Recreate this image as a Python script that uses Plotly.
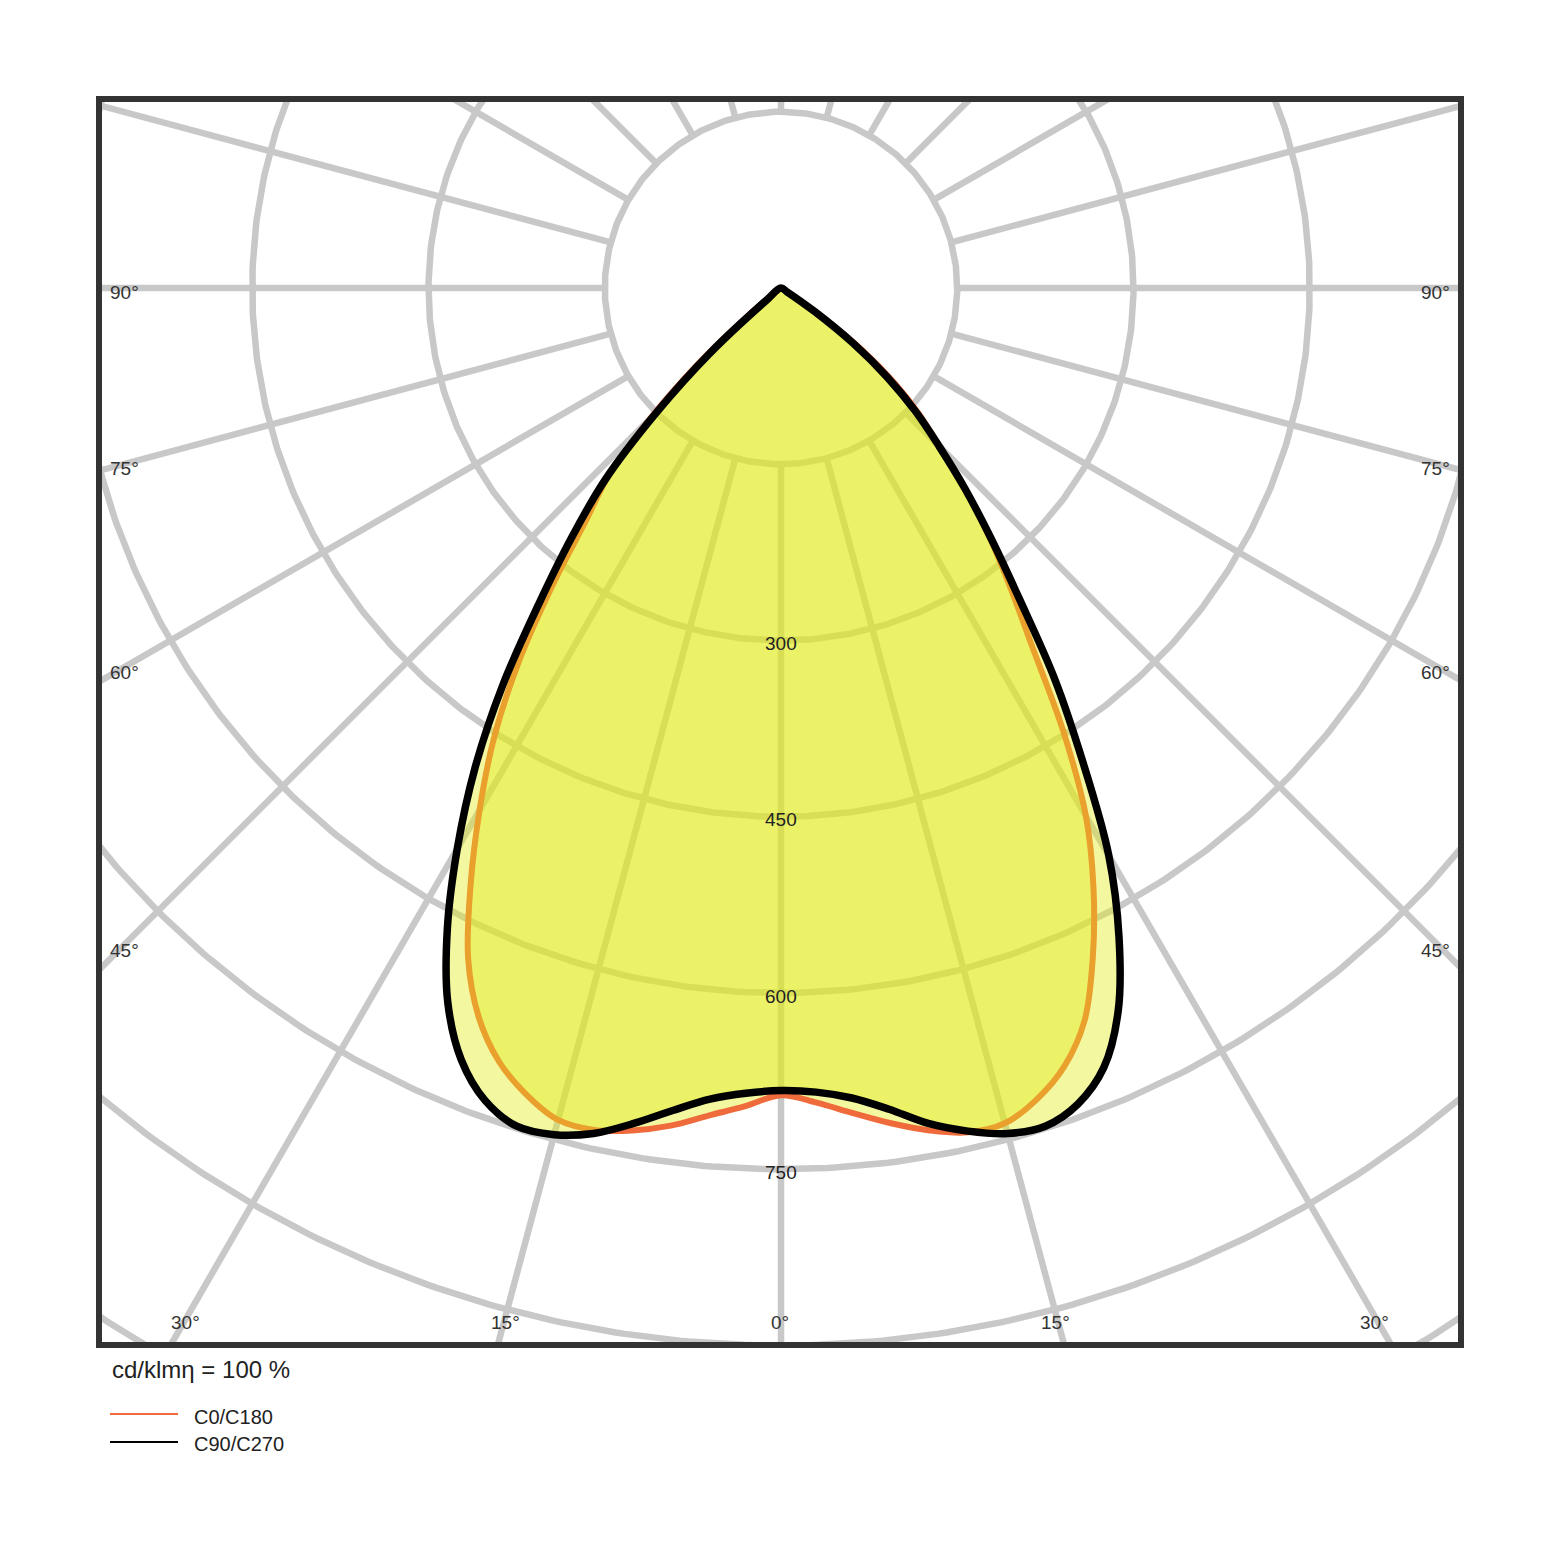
import numpy as np
import plotly.graph_objects as go

# luminous intensity (cd/klm), gamma in degrees from nadir
gamma = [0, 2.5, 5, 7.5, 10, 12.5, 15, 17.5, 20, 22.5, 25, 27.5, 30,
         32.5, 35, 37.5, 40, 42.5, 45, 47.5, 50, 52.5, 55, 57.5, 60]
c0 = [687, 694, 705, 717, 728, 736, 736, 724, 705, 675, 628, 576, 519,
      447, 373, 320, 275, 230, 190, 160, 127, 88, 42, 8, 0]
c180 = [687, 697, 707, 719, 728, 734, 733, 720, 701, 672, 630, 572, 513,
        455, 390, 320, 258, 218, 158, 95, 35, 5, 0, 0, 0]
c90 = [683, 685, 692, 705, 722, 735, 745, 748, 739, 718, 679, 623, 558,
       478, 406, 333, 278, 232, 190, 155, 118, 78, 35, 6, 0]
c270 = [683, 686, 693, 706, 722, 737, 746, 748, 736, 711, 671, 615, 551,
        485, 413, 338, 277, 222, 150, 82, 16, 0, 0, 0, 0]

radial_ticks = [300, 450, 600, 750]
grid_radii = [150, 300, 450, 600, 750, 900, 1050, 1200]
grid_angles = list(range(-165, 181, 15))

side_labels = ["90°", "75°", "60°", "45°"]
side_label_y = [292, 468, 672, 950]
bottom_labels = ["30°", "15°", "0°", "15°", "30°"]
bottom_label_x = [185, 505, 780, 1055, 1374]

# pixel geometry of the picture
CX, CY, K = 781, 288, 1.175   # centre of diagram, px per cd
L, R, T, B = 99, 1461, 99, 1345
OFF = 8   # page body margin of the html

def px(xp, yp):
    return (xp - CX) / K, (CY - yp) / K

def pap(xp, yp):
    return (xp - L) / (R - L), (B - yp) / (B - T)

GRID = "#c8c8c8"
FILL = "rgba(226,235,24,0.41)"
ORANGE = "#ef6b3b"
SM = 1.0

def curve(left, right):
    g = np.radians(gamma)
    l = np.array(left, float)
    r = np.array(right, float)
    ml, mr = l > 0, r > 0
    xl, yl = -l[ml] * np.sin(g[ml]), -l[ml] * np.cos(g[ml])
    xr, yr = r[mr] * np.sin(g[mr]), -r[mr] * np.cos(g[mr])
    x = np.concatenate([[0], xl[::-1], xr[1:], [0]])
    y = np.concatenate([[0], yl[::-1], yr[1:], [0]])
    return x, y

fig = go.Figure()

# polar grid
t = np.linspace(0, 2 * np.pi, 721)
for rad in grid_radii:
    fig.add_trace(go.Scatter(x=rad * np.sin(t), y=rad * np.cos(t), mode="lines",
                             line=dict(color=GRID, width=6.5), hoverinfo="skip"))
for a in grid_angles:
    ar = np.radians(a)
    fig.add_trace(go.Scatter(x=[150 * np.sin(ar), 2000 * np.sin(ar)],
                             y=[-150 * np.cos(ar), -2000 * np.cos(ar)], mode="lines",
                             line=dict(color=GRID, width=6.5), hoverinfo="skip"))

xo, yo = curve(c180, c0)
xb, yb = curve(c270, c90)

# fills are laid over the lines like in the original drawing
fig.add_trace(go.Scatter(x=xo, y=yo, mode="lines", fill="toself", fillcolor=FILL,
                         line=dict(width=0, shape="spline", smoothing=SM)))
fig.add_trace(go.Scatter(x=xo, y=yo, mode="lines", name="C0/C180",
                         line=dict(color=ORANGE, width=6, shape="spline", smoothing=SM)))
fig.add_trace(go.Scatter(x=xb, y=yb, mode="lines", fill="toself", fillcolor=FILL,
                         line=dict(width=0, shape="spline", smoothing=SM)))
fig.add_trace(go.Scatter(x=xb, y=yb, mode="lines", name="C90/C270",
                         line=dict(color="black", width=7.5, shape="spline", smoothing=SM)))

ann = []
for v in radial_ticks:
    ann.append(dict(x=0, y=-v - 3 / K, text=str(v), showarrow=False, yanchor="middle",
                    font=dict(size=19, color="#222")))
for s, yp in zip(side_labels, side_label_y):
    ann.append(dict(x=px(108, yp)[0], y=px(108, yp)[1], text=s, showarrow=False,
                    xanchor="left", yanchor="middle", font=dict(size=19, color="#333")))
    ann.append(dict(x=px(1452, yp)[0], y=px(1452, yp)[1], text=s, showarrow=False,
                    xanchor="right", yanchor="middle", font=dict(size=19, color="#333")))
for s, xp in zip(bottom_labels, bottom_label_x):
    ann.append(dict(x=px(xp, 1322)[0], y=px(xp, 1322)[1], text=s, showarrow=False,
                    yanchor="middle", font=dict(size=19, color="#333")))

# unit note and legend below the frame
W, H = 1560, 1561
x0, y0 = pap(110, 1370)
ann.append(dict(xref="paper", yref="paper", x=x0, y=y0, text="cd/klmη = 100 %",
                showarrow=False, xanchor="left", yanchor="middle",
                font=dict(size=24, color="#222")))
for name, yp in [("C0/C180", 1417), ("C90/C270", 1444)]:
    xa, ya = pap(192, yp)
    ann.append(dict(xref="paper", yref="paper", x=xa, y=ya, text=name, showarrow=False,
                    xanchor="left", yanchor="middle", font=dict(size=20, color="#222")))

shapes = [dict(type="rect", xref="paper", yref="paper", x0=0, y0=0, x1=1, y1=1,
               line=dict(color="#333", width=6))]
for col, yp in [(ORANGE, 1414), ("black", 1442)]:
    xa, ya = pap(110, yp)
    xb2, _ = pap(178, yp)
    shapes.append(dict(type="line", xref="paper", yref="paper", x0=xa, x1=xb2, y0=ya, y1=ya,
                       line=dict(color=col, width=2)))

fig.update_layout(
    width=W, height=H,
    margin=dict(l=L - OFF, r=W - R + OFF, t=T - OFF, b=H - B + OFF, pad=0),
    paper_bgcolor="white", plot_bgcolor="white",
    showlegend=False,
    font=dict(family="Liberation Sans, Arial, sans-serif"),
    xaxis=dict(range=[(L - CX) / K, (R - CX) / K], visible=False, fixedrange=True),
    yaxis=dict(range=[(CY - B) / K, (CY - T) / K], visible=False, fixedrange=True),
    annotations=ann, shapes=shapes,
)

fig.write_html("out.html")
